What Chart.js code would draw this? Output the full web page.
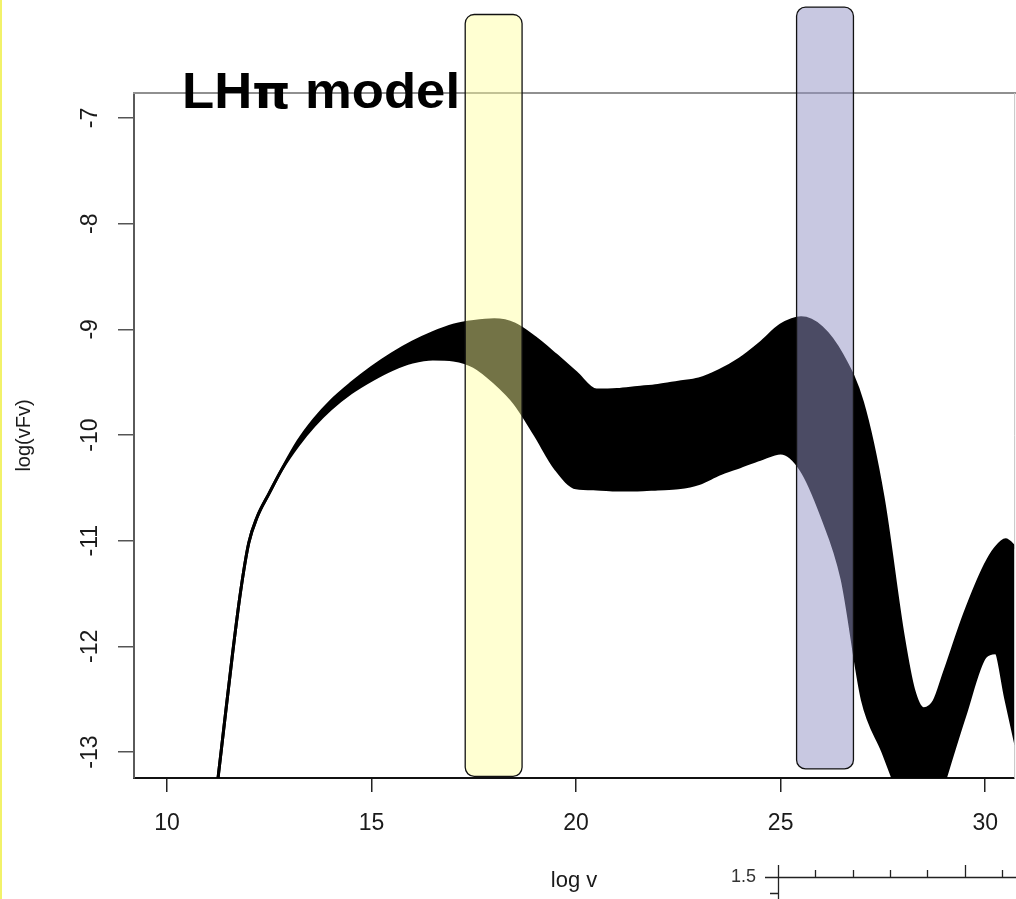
<!DOCTYPE html>
<html>
<head>
<meta charset="utf-8">
<script src="https://cdn.jsdelivr.net/npm/chart.js@4.4.1/dist/chart.umd.min.js"></script>
<style>
html,body{margin:0;padding:0;background:#fff;overflow:hidden}
canvas{display:block}
</style>
</head>
<body>
<canvas id="c" width="1016" height="899"></canvas>
<script>
// ---- data ----
const logNu = [11.17, 11.25, 11.4, 11.6, 11.8, 12.0, 12.2, 12.5, 12.8, 13.2, 13.6, 14.0, 14.5, 15.0, 15.5,
  16.0, 16.5, 17.0, 17.5, 18.0, 18.5, 19.0, 19.5, 20.0, 20.5, 21.0, 21.5, 22.0, 22.5, 23.0, 23.5, 24.0,
  24.5, 25.0, 25.5, 26.0, 26.5, 27.0, 27.5, 28.0, 28.25, 28.5, 28.75, 29.0, 29.5, 30.0, 30.25, 30.5, 30.75];

// upper envelope of the bundle of model SEDs, log(nu F nu)
const upperLogNuFNu = [-13.5, -13.24, -12.74, -12.08, -11.48, -11.02, -10.78, -10.55, -10.33, -10.06, -9.85,
  -9.68, -9.51, -9.36, -9.23, -9.12, -9.03, -8.96, -8.925, -8.91, -8.95, -9.08, -9.24, -9.41, -9.575, -9.57,
  -9.55, -9.53, -9.50, -9.47, -9.39, -9.28, -9.13, -8.96, -8.89, -8.98, -9.24, -9.69, -10.58, -11.91,
  -12.41, -12.59, -12.52, -12.25, -11.69, -11.23, -11.07, -10.99, -11.07];

// lower envelope of the bundle of model SEDs, log(nu F nu)
const lowerLogNuFNu = [-13.5, -13.24, -12.74, -12.08, -11.48, -11.02, -10.78, -10.55, -10.33, -10.10, -9.91,
  -9.755, -9.60, -9.48, -9.38, -9.31, -9.28, -9.29, -9.35, -9.50, -9.70, -10.00, -10.32, -10.50, -10.51,
  -10.52, -10.52, -10.51, -10.50, -10.46, -10.37, -10.30, -10.23, -10.17, -10.33, -10.76, -11.36, -12.51,
  -13.00, -13.50, -13.70, -13.80, -13.60, -13.28, -12.66, -12.10, -12.06, -12.49, -12.93];

const xTickValues = [10, 15, 20, 25, 30];
const yTickValues = [-7, -8, -9, -10, -11, -12, -13];

// observing windows (log nu ranges)
const yellowWindow = [17.29, 18.68];
const blueWindow = [25.39, 26.78];

const titleParts = ['LH', '\u03c0', ' model'];
const xTitleText = 'log v';
const yTitleText = 'log(vFv)';
const insetTickLabel = '1.5';

// ---- layout / style ----
const FONT = '"Liberation Sans", Arial, Helvetica, sans-serif';
const PI_FONT = '"DejaVu Sans", sans-serif';
const bandStyles = [
  {range: yellowWindow, top: -6.02, bottom: -13.23, fill: 'rgba(255,255,155,0.45)'},
  {range: blueWindow, top: -5.95, bottom: -13.16, fill: 'rgba(147,147,196,0.51)'}
];

const decor = {
  id: 'decor',
  beforeDraw(chart) {
    const ctx = chart.ctx;
    ctx.save();
    ctx.fillStyle = '#ffffff';
    ctx.fillRect(0, 0, chart.width, chart.height);
    ctx.fillStyle = '#f2f26a';
    ctx.fillRect(0, 0, 2, chart.height);
    ctx.restore();
  },
  beforeDatasetsDraw(chart) {
    const ctx = chart.ctx, a = chart.chartArea;
    ctx.save();
    ctx.strokeStyle = '#909090';
    ctx.lineWidth = 2;
    ctx.beginPath();
    ctx.moveTo(a.left - 1, a.top);
    ctx.lineTo(chart.width, a.top);
    ctx.stroke();
    ctx.strokeStyle = '#c4c4c4';
    ctx.lineWidth = 1;
    ctx.beginPath();
    ctx.moveTo(a.right + 0.5, a.top);
    ctx.lineTo(a.right + 0.5, a.bottom);
    ctx.stroke();
    ctx.restore();
  },
  afterDatasetsDraw(chart) {
    const ctx = chart.ctx, xs = chart.scales.x, ys = chart.scales.y;
    ctx.save();
    bandStyles.forEach(b => {
      const x0 = xs.getPixelForValue(b.range[0]);
      const x1 = xs.getPixelForValue(b.range[1]);
      const y0 = ys.getPixelForValue(b.top);
      const y1 = ys.getPixelForValue(b.bottom);
      ctx.beginPath();
      ctx.roundRect(x0, y0, x1 - x0, y1 - y0, 9);
      ctx.fillStyle = b.fill;
      ctx.fill();
      ctx.lineWidth = 1.3;
      ctx.strokeStyle = '#111';
      ctx.stroke();
    });
    ctx.restore();
  },
  afterDraw(chart) {
    const ctx = chart.ctx;
    ctx.save();
    // title, drawn in three pieces so that the pi glyph is upright
    const fonts = ['bold 50px ' + FONT, 'bold 46px ' + PI_FONT, 'bold 50px ' + FONT];
    const widths = titleParts.map((t, i) => { ctx.font = fonts[i]; return ctx.measureText(t).width; });
    const total = widths.reduce((a, b) => a + b, 0);
    ctx.fillStyle = '#000';
    ctx.textBaseline = 'alphabetic';
    ctx.textAlign = 'left';
    ctx.translate(182, 108);
    ctx.scale(278 / total, 1);
    let x = 0;
    titleParts.forEach((t, i) => { ctx.font = fonts[i]; ctx.fillText(t, x, 0); x += widths[i]; });
    ctx.restore();

    // partial second panel at the bottom right
    ctx.save();
    ctx.strokeStyle = '#222';
    ctx.lineWidth = 1.3;
    ctx.beginPath();
    ctx.moveTo(765, 877.5); ctx.lineTo(1016, 877.5);
    ctx.moveTo(778.5, 865); ctx.lineTo(778.5, 899);
    ctx.moveTo(770, 893.5); ctx.lineTo(778, 893.5);
    [815, 853, 890, 927, 1002].forEach(x => { ctx.moveTo(x + 0.5, 870); ctx.lineTo(x + 0.5, 877); });
    ctx.moveTo(965.5, 865); ctx.lineTo(965.5, 877);
    ctx.stroke();
    ctx.font = '18px ' + FONT;
    ctx.fillStyle = '#333';
    ctx.textAlign = 'right';
    ctx.textBaseline = 'middle';
    ctx.fillText(insetTickLabel, 756, 877);
    ctx.restore();
  }
};

const upperPts = logNu.map((x, i) => ({x: x, y: upperLogNuFNu[i]}));
const lowerPts = logNu.map((x, i) => ({x: x, y: lowerLogNuFNu[i]}));

new Chart(document.getElementById('c'), {
  type: 'line',
  data: {
    datasets: [
      {label: 'upper', data: upperPts, borderColor: '#000', backgroundColor: '#000', borderWidth: 3,
       pointRadius: 0, fill: '+1', cubicInterpolationMode: 'monotone', clip: 0},
      {label: 'lower', data: lowerPts, borderColor: '#000', backgroundColor: '#000', borderWidth: 3,
       pointRadius: 0, fill: false, cubicInterpolationMode: 'monotone', clip: 0}
    ]
  },
  options: {
    responsive: false,
    animation: false,
    devicePixelRatio: 1,
    layout: {padding: {top: 93, right: 1, left: 0, bottom: 0}},
    plugins: {legend: {display: false}, tooltip: {enabled: false}, title: {display: false}},
    scales: {
      x: {
        type: 'linear', min: 9.194, max: 30.708,
        afterBuildTicks: s => { s.ticks = xTickValues.map(v => ({value: v})); },
        afterFit: s => { s.height = 121; },
        grid: {drawOnChartArea: false, drawTicks: true, tickLength: 14, color: '#222', lineWidth: 1.5},
        border: {display: true, color: '#111', width: 2},
        ticks: {font: {family: FONT, size: 23}, color: '#1a1a1a', padding: 18, maxRotation: 0, autoSkip: false,
                callback: v => String(v)},
        title: {display: true, text: xTitleText, color: '#1a1a1a', font: {family: FONT, size: 22},
                padding: {top: 0, bottom: 5}}
      },
      y: {
        type: 'linear', min: -13.246, max: -6.763,
        afterBuildTicks: s => { s.ticks = yTickValues.map(v => ({value: v})); },
        afterFit: s => { s.width = 134; },
        grid: {drawOnChartArea: false, drawTicks: true, tickLength: 16, color: '#555', lineWidth: 1.5},
        border: {display: true, color: '#5a5a5a', width: 2},
        ticks: {font: {family: FONT, size: 23}, color: '#1a1a1a', padding: 11, minRotation: 90, maxRotation: 90,
                crossAlign: 'center', autoSkip: false, callback: v => String(v)},
        title: {display: true, text: yTitleText, color: '#1a1a1a', font: {family: FONT, size: 20},
                padding: {top: 12, bottom: 0}}
      }
    }
  },
  plugins: [decor]
});
</script>
</body>
</html>
